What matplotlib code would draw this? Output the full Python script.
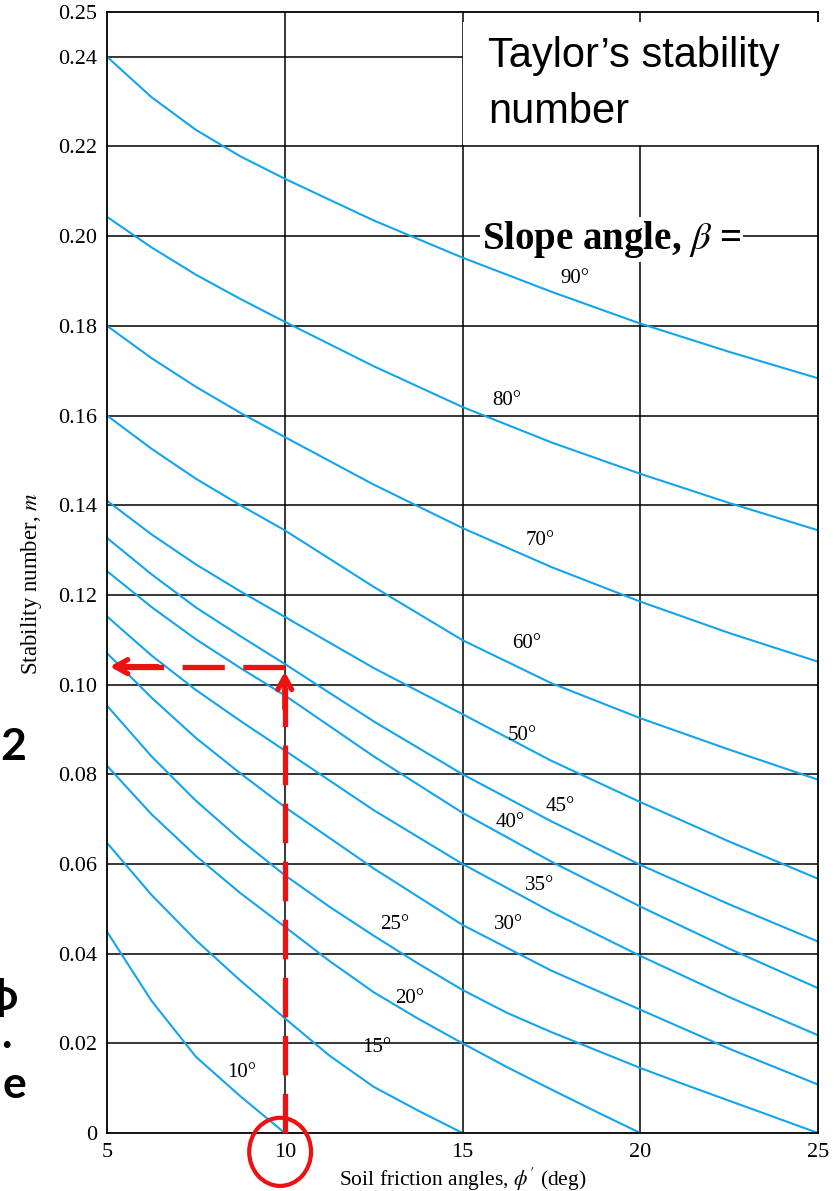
"""
Taylor's stability chart: stability number m vs soil friction angle,
one curve per slope angle beta, with the worked read-off in red.
"""

import matplotlib.pyplot as plt
from matplotlib.patches import Ellipse, Rectangle

plt.rcParams["mathtext.fontset"] = "stix"

# -------------------- Data --------------------
# steep slopes: finer steps where the curves bend most (5-10 deg)
phi_u = [5, 6.25, 7.5, 8.75, 10, 12.5, 15, 17.5, 20, 22.5, 25]

m90 = [0.2400, 0.2310, 0.2237, 0.2178, 0.2128, 0.2035, 0.1952, 0.1876,
       0.1805, 0.1742, 0.1683]
m80 = [0.2043, 0.1975, 0.1914, 0.1860, 0.1809, 0.1710, 0.1619, 0.1540,
       0.1470, 0.1405, 0.1344]
m70 = [0.1800, 0.1728, 0.1664, 0.1606, 0.1552, 0.1446, 0.1349, 0.1262,
       0.1185, 0.1115, 0.1051]
m60 = [0.1600, 0.1526, 0.1459, 0.1400, 0.1344, 0.1218, 0.1099, 0.1003,
       0.0925, 0.0855, 0.0788]
m50 = [0.1410, 0.1335, 0.1268, 0.1208, 0.1151, 0.1037, 0.0934, 0.0830,
       0.0738, 0.0650, 0.0567]
m45 = [0.1327, 0.1246, 0.1172, 0.1108, 0.1046, 0.0918, 0.0800, 0.0695,
       0.0598, 0.0510, 0.0427]
m40 = [0.1253, 0.1173, 0.1101, 0.1037, 0.0976, 0.0840, 0.0714, 0.0605,
       0.0505, 0.0411, 0.0323]
m35 = [0.1152, 0.1065, 0.0988, 0.0919, 0.0853, 0.0720, 0.0600, 0.0493,
       0.0395, 0.0303, 0.0218]
m30 = [0.1070, 0.0971, 0.0881, 0.0802, 0.0727, 0.0590, 0.0464, 0.0362,
       0.0275, 0.0188, 0.0108]

# flat slopes run down to m = 0 at phi' = beta
phi_l = [5, 6.25, 7.5, 8.75, 10, 11.25, 12.5, 13.75, 15, 16.25, 17.5,
         18.75, 20, 21.25, 22.5, 23.75, 25]

m25 = [0.0953, 0.0840, 0.0741, 0.0654, 0.0575, 0.0505, 0.0440, 0.0378,
       0.0319, 0.0268, 0.0225, 0.0185, 0.0145, 0.0108, 0.0072, 0.0036, 0.0]
m20 = [0.0819, 0.0711, 0.0618, 0.0535, 0.0460, 0.0384, 0.0314, 0.0255,
       0.0200, 0.0147, 0.0097, 0.0048, 0.0]
m15 = [0.0647, 0.0531, 0.0430, 0.0340, 0.0256, 0.0173, 0.0103, 0.0050, 0.0]
m10 = [0.0449, 0.0295, 0.0170, 0.0082, 0.0]

# curve label text and where it sits (phi, m)
labels = ["90°", "80°", "70°", "60°", "50°", "45°", "40°",
          "35°", "30°", "25°", "20°", "15°", "10°"]
label_x = [18.16, 16.25, 17.18, 16.81, 16.67, 17.74, 16.34,
           17.18, 16.28, 13.10, 13.52, 12.60, 8.80]
label_y = [0.1906, 0.1634, 0.1322, 0.1092, 0.0887, 0.0729, 0.0693,
           0.0551, 0.0464, 0.0464, 0.0301, 0.0190, 0.0136]

# worked example: phi' = 10 deg -> m read at about 0.104
phi_read = 10
m_read = 0.104

yticks = [0, 0.02, 0.04, 0.06, 0.08, 0.10, 0.12, 0.14, 0.16, 0.18,
          0.20, 0.22, 0.24, 0.25]
ytick_labels = ["0", "0.02", "0.04", "0.06", "0.08", "0.10", "0.12",
                "0.14", "0.16", "0.18", "0.20", "0.22", "0.24", "0.25"]
xticks = [5, 10, 15, 20, 25]

# -------------------- Figure --------------------
BLUE = "#14a4ee"
SERIF = "Liberation Serif"

fig = plt.figure(figsize=(8.36, 11.91), dpi=100)
ax = fig.add_axes([0.128, 0.0487, 0.8505, 0.9413])

ax.set_xlim(5, 25)
ax.set_ylim(0, 0.25)

for v in [10, 15, 20]:
    ax.axvline(v, color="black", lw=1.1, zorder=1)
for v in yticks[1:-1]:
    ax.axhline(v, color="black", lw=1.1, zorder=1)

for m in [m90, m80, m70, m60, m50, m45, m40, m35, m30]:
    ax.plot(phi_u, m, color=BLUE, lw=1.5, zorder=2)
for m in [m25, m20, m15, m10]:
    ax.plot(phi_l[:len(m)], m, color=BLUE, lw=1.5, zorder=2)

for txt, x, y in zip(labels, label_x, label_y):
    ax.text(x, y, txt, fontsize=15, family=SERIF, ha="center", va="center",
            zorder=3)

ax.set_xticks(xticks)
ax.set_yticks(yticks)
ax.set_yticklabels(ytick_labels)
ax.tick_params(length=0, pad=7, labelsize=16)
for lab in ax.get_xticklabels() + ax.get_yticklabels():
    lab.set_family(SERIF)
for s in ax.spines.values():
    s.set_linewidth(1.3)

ax.set_xlabel("Soil friction angles, $\\phi'$ (deg)", fontsize=15.5,
              family=SERIF, labelpad=3)
ax.set_ylabel("Stability number, $m$", fontsize=16.5, family=SERIF)
ax.yaxis.set_label_coords(-0.088, 0.49)

# title box over the top right corner
fig.patches.append(Rectangle((463 / 836, 1 - 145 / 1191), 373 / 836,
                             123 / 1191, transform=fig.transFigure,
                             facecolor="white", edgecolor="none", zorder=5))
fig.text(488 / 836, 1 - 67 / 1191, "Taylor\u2019s stability",
         fontsize=30, family="Liberation Sans", ha="left", va="baseline",
         zorder=6)
fig.text(488 / 836, 1 - 123 / 1191, "number",
         fontsize=30, family="Liberation Sans", ha="left", va="baseline",
         zorder=6)
ax.text(0.527, 0.797, "Slope angle, $\\beta$ =", transform=ax.transAxes,
        fontsize=28, family=SERIF, weight="bold", ha="left", va="center",
        bbox=dict(facecolor="white", edgecolor="none", pad=1), zorder=6)

# -------------------- Red read-off --------------------
RED = "#ee1111"
arrow = dict(arrowstyle="->,head_length=0.9,head_width=0.5", color=RED,
             lw=3.8)
ax.plot([phi_read, phi_read], [0, m_read - 0.002], color=RED, lw=3.8,
        linestyle=(0, (7.5, 3.5)), clip_on=False, zorder=7)
ax.plot([phi_read, 5.15], [m_read, m_read], color=RED, lw=3.8,
        linestyle=(0, (8, 3.5)), clip_on=False, zorder=7)
ax.annotate("", xy=(phi_read, m_read - 0.0005),
            xytext=(phi_read, m_read - 0.01), arrowprops=arrow,
            annotation_clip=False, zorder=8)
ax.annotate("", xy=(5.0, m_read), xytext=(6.5, m_read), arrowprops=arrow,
            annotation_clip=False, zorder=8)
ax.add_patch(Ellipse((9.87, -0.0042), 1.74, 0.0152, fill=False,
                     edgecolor=RED, lw=3, clip_on=False, zorder=8))

# cut-off slide text along the left edge
for txt, x, y, ha in [("2", 0, 760, "left"), ("\u03d5", 1, 1010, "center"),
                      (".", 12, 1048, "right"), ("e", 26, 1098, "right")]:
    fig.text(x / 836, 1 - y / 1191, txt, fontsize=32,
             family=["Lato", "DejaVu Sans"], weight="bold", ha=ha,
             va="baseline")

fig.savefig("out.png", dpi=100)
